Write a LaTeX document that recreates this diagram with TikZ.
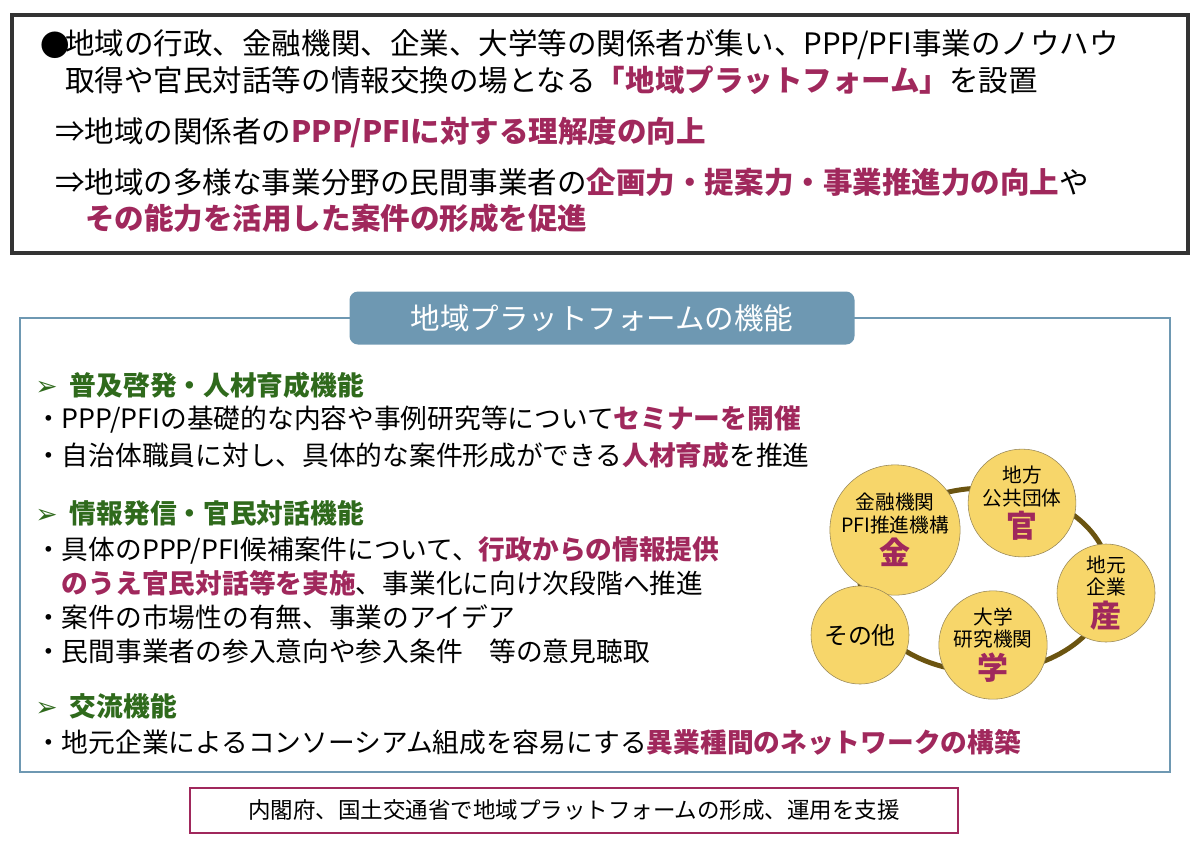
\documentclass[tikz,border=0pt]{standalone}
\usepackage{fontspec}
\setmainfont{Noto Sans CJK JP}
\newfontfamily\symfont{DejaVu Sans}
\usetikzlibrary{positioning}
\definecolor{keymag}{HTML}{A0285C}
\definecolor{keygreen}{HTML}{2F6A1C}
\definecolor{frameblue}{HTML}{6E98B2}
\definecolor{ringbrown}{HTML}{6B5410}
\definecolor{discfill}{HTML}{F7D66A}
\newcommand{\hl}[1]{{\bfseries\color{keymag}#1}}
\newcommand{\bigmark}[1]{{\fontsize{22}{24}\selectfont\bfseries\color{keymag}#1}}
\tikzset{
  toptext/.style={anchor=west, inner sep=0pt, font=\fontsize{21}{24}\selectfont},
  bodytext/.style={anchor=west, inner sep=0pt, font=\fontsize{19}{22}\selectfont},
  headtext/.style={anchor=west, inner sep=0pt, text=keygreen, font=\fontsize{19}{22}\selectfont\bfseries},
  disc/.style={circle, draw=ringbrown!70, fill=discfill, minimum size=2.45cm, align=center, inner sep=0pt, font=\fontsize{14}{16}\selectfont}
}
\begin{document}
\begin{tikzpicture}[x=0.025cm, y=-0.025cm]
\useasboundingbox (0,0) rectangle (1200,844);
%top frame
\draw[line width=2.2pt, draw=black!80] (12,15) rectangle (1188,253);
\node[toptext] (bul) at (40,45) {●};
\node[toptext] (t1) at (65,45) {地域の行政、金融機関、企業、大学等の関係者が集い、PPP/PFI事業のノウハウ};
\node[toptext] (t2) at (65,80) {取得や官民対話等の情報交換の場となる\hl{「地域プラットフォーム」}を設置};
\node[toptext] (t3) at (55,133) {⇒地域の関係者の\hl{PPP/PFIに対する理解度の向上}};
\node[toptext] (t4) at (55,182) {⇒地域の多様な事業分野の民間事業者の\hl{企画力・提案力・事業推進力の向上}や};
\node[toptext] (t5) at (85,218) {\hl{その能力を活用した案件の形成を促進}};
%function frame
\draw[line width=1.8pt, draw=frameblue] (20,318) rectangle (1170,772);
\node[fill=frameblue, rounded corners=6pt, minimum width=505*0.025cm, minimum height=53*0.025cm,
  text=white, font=\fontsize{21}{24}\selectfont] (tab) at (602,318) {地域プラットフォームの機能};
\node[headtext] (h1) at (35,385) {{\symfont ➢}\ \ 普及啓発・人材育成機能};
\node[bodytext] (a1) at (35,420) {・PPP/PFIの基礎的な内容や事例研究等について\hl{セミナーを開催}};
\node[bodytext] (a2) at (35,455) {・自治体職員に対し、具体的な案件形成ができる\hl{人材育成}を推進};
\node[headtext] (h2) at (35,513) {{\symfont ➢}\ \ 情報発信・官民対話機能};
\node[bodytext] (b1) at (35,550) {・具体のPPP/PFI候補案件について、\hl{行政からの情報提供}};
\node[bodytext] (b2) at (35,583) {\phantom{・}\hl{のうえ官民対話等を実施}、事業化に向け次段階へ推進};
\node[bodytext] (b3) at (35,617) {・案件の市場性の有無、事業のアイデア};
\node[bodytext] (b4) at (35,651) {・民間事業者の参入意向や参入条件\quad 等の意見聴取};
\node[headtext] (h3) at (35,706) {{\symfont ➢}\ \ 交流機能};
\node[bodytext] (c1) at (35,742) {・地元企業によるコンソーシアム組成を容易にする\hl{異業種間のネットワークの構築}};
%ring of actors
\draw[line width=3.5pt, draw=ringbrown] (985,580) ellipse (125 and 92);
\node[disc] (kin) at (895,530) {金融機関\\PFI推進機構\\[2pt]\bigmark{金}};
\node[disc] (kan) at (1022,503) {地方\\公共団体\\[2pt]\bigmark{官}};
\node[disc] (san) at (1106,593) {地元\\企業\\[2pt]\bigmark{産}};
\node[disc] (gak) at (993,645) {大学\\研究機関\\[2pt]\bigmark{学}};
\node[disc] (oth) at (860,635) {\fontsize{17}{20}\selectfont その他};
%support note
\draw[line width=2pt, draw=keymag] (190,788) rectangle (958,833);
\node[font=\fontsize{16}{19}\selectfont] (sup) at (574,810) {内閣府、国土交通省で地域プラットフォームの形成、運用を支援};
\end{tikzpicture}
\end{document}
